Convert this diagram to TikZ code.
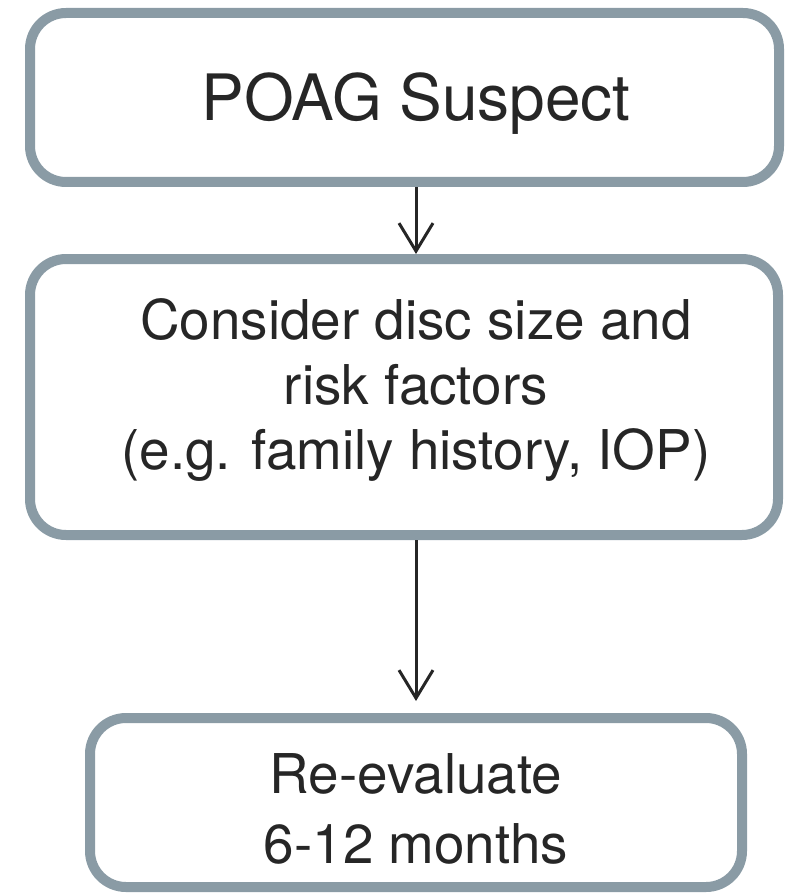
\documentclass[tikz,border=0pt]{standalone}
\usepackage{fontspec}
\setmainfont{TeX Gyre Heros}
\usetikzlibrary{positioning,arrows.meta}
\definecolor{boxedge}{RGB}{138,155,165}
\definecolor{inktext}{RGB}{38,38,38}
\tikzset{
  flowarrow/.style={-{Straight Barb[length=7mm, width=8.5mm]}, line width=0.075cm, draw=inktext},
  stepbox/.style={draw=boxedge, line width=0.25cm, rounded corners=0.9cm, fill=white},
  steptext/.style={text=inktext, align=center, inner sep=0pt}
}

\begin{document}
\begin{tikzpicture}
      \useasboundingbox (0,0) rectangle (19.6,-22.35);
      \node[stepbox, minimum width=18.725cm, minimum height=4.225cm] (suspect) at (10.1125,-2.4375) {};
      \node[stepbox, minimum width=18.7cm, minimum height=6.9cm] (consider) at (10.1,-9.925) {};
      \node[stepbox, minimum width=16.3cm, minimum height=4.225cm] (review) at (10.4,-20.0625) {};
      \node[steptext, font=\fontsize{45.5}{52}\selectfont] (suspect-txt) at (10.4,-2.6) {POAG Suspect};
      \node[steptext, font=\fontsize{39}{46}\selectfont] (consider-txt) at (10.4,-9.75) {Consider disc size and\\risk factors\\(e.g. family history, IOP)};
      \node[steptext, font=\fontsize{39}{50}\selectfont] (review-txt) at (10.4,-20.225) {Re-evaluate\\6-12 months};
      \draw[flowarrow] (suspect.south -| review) -- (consider.north -| review);
      \draw[flowarrow, shorten >=0.3cm] (consider.south -| review) -- (review.north);
    \end{tikzpicture}
\end{document}
